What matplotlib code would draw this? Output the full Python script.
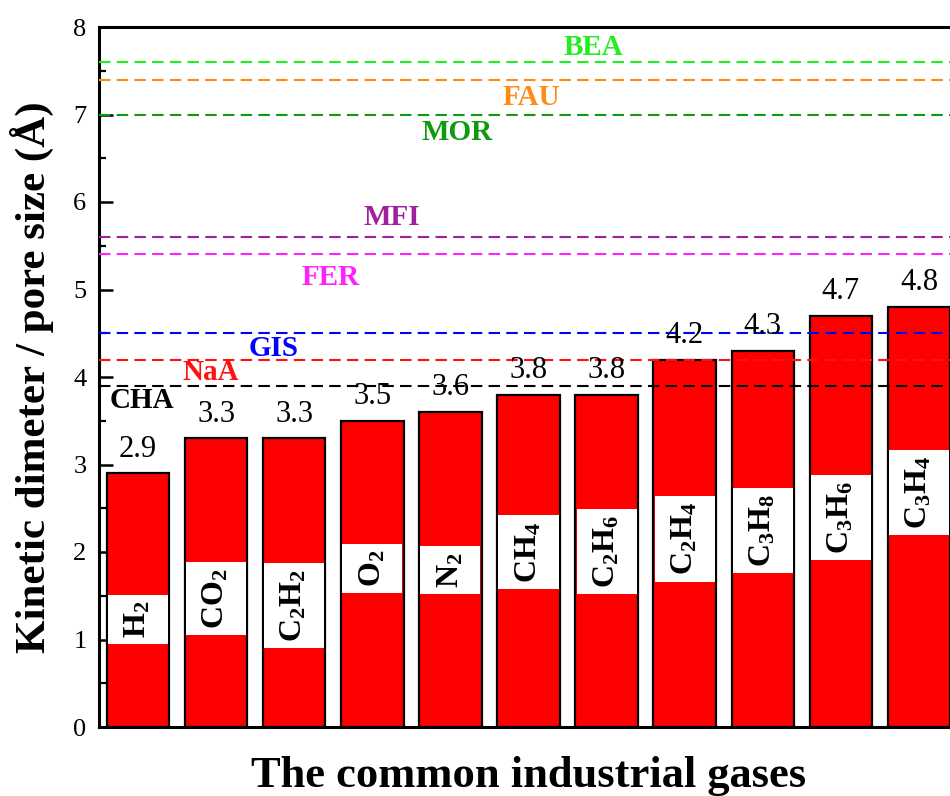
import matplotlib
matplotlib.use('Agg')
import matplotlib.pyplot as plt
from matplotlib.patches import Rectangle
from matplotlib.ticker import MultipleLocator, NullLocator

# ---------------- data ----------------
gases = [r'H_2', r'CO_2', r'C_2H_2', r'O_2', r'N_2', r'CH_4', r'C_2H_6',
         r'C_2H_4', r'C_3H_8', r'C_3H_6', r'C_3H_4']
diameters = [2.9, 3.3, 3.3, 3.5, 3.6, 3.8, 3.8, 4.2, 4.3, 4.7, 4.8]
value_text = ['2.9', '3.3', '3.3', '3.5', '3.6', '3.8', '3.8', '4.2', '4.3', '4.7', '4.8']
gas_label_y = [1.23, 1.47, 1.39, 1.81, 1.79, 2.00, 2.01, 2.15, 2.25, 2.39, 2.68]

zeolites = ['BEA', 'FAU', 'MOR', 'MFI', 'FER', 'GIS', 'NaA', 'CHA']
pore_sizes = [7.6, 7.4, 7.0, 5.6, 5.4, 4.5, 4.2, 3.9]
zeolite_colors = ['#22EE22', '#FF8A14', '#109A10', '#A020A0', '#FF22FF',
                  '#0000FF', '#FF1111', '#000000']
zeo_label_x = [5.83, 5.04, 4.08, 3.25, 2.46, 1.74, 0.93, 0.05]
zeo_label_y = [7.77, 7.19, 6.79, 5.82, 5.14, 4.32, 4.05, 3.73]

# ---------------- style ----------------
plt.rcParams['font.family'] = ['Liberation Serif', 'DejaVu Serif']
plt.rcParams['mathtext.fontset'] = 'custom'
plt.rcParams['mathtext.rm'] = 'Liberation Serif'
plt.rcParams['mathtext.bf'] = 'Liberation Serif:bold'
plt.rcParams['mathtext.it'] = 'Liberation Serif:italic'

fig = plt.figure(figsize=(9.5, 7.96), dpi=100)
ax = fig.add_axes([99 / 950, 69 / 796, (958 - 99) / 950, 700 / 796])

x = list(range(len(gases)))
bars = ax.bar(x, diameters, width=0.8, color='#FF0000', edgecolor='black',
              linewidth=1.6, zorder=2)

ax.set_xlim(-0.5, len(gases) - 0.5)
ax.set_ylim(0, 8)

# horizontal dashed pore-size lines
for ps, c in zip(pore_sizes, zeolite_colors):
    ax.axhline(ps, color=c, linewidth=1.5, dashes=(5.5, 3.0), zorder=3)

for name, c, lx, ly in zip(zeolites, zeolite_colors, zeo_label_x, zeo_label_y):
    ax.text(lx, ly, name, color=c, fontsize=21, fontweight='bold',
            ha='center', va='center', zorder=5)

# value labels above bars
for xi, d, s in zip(x, diameters, value_text):
    ax.annotate(s, (xi, d), xytext=(0, 7), textcoords='offset points',
                ha='center', va='bottom', fontsize=22, zorder=6)

# gas labels inside bars with white background
texts = []
for xi, g, gy in zip(x, gases, gas_label_y):
    t = ax.text(xi, gy, r'$\mathbf{' + g + '}$', rotation=90, fontsize=23,
                ha='center', va='center', zorder=6)
    texts.append(t)

fig.canvas.draw()
renderer = fig.canvas.get_renderer()
inv = ax.transData.inverted()
for xi, t in zip(x, texts):
    bb = t.get_window_extent(renderer).transformed(inv)
    pad = 0.07
    rect = Rectangle((xi - 0.385, bb.y0 - pad), 0.77, (bb.y1 - bb.y0) + 2 * pad,
                     facecolor='white', edgecolor='none', zorder=4)
    ax.add_patch(rect)

# axes styling
for side in ['left', 'bottom', 'top', 'right']:
    ax.spines[side].set_linewidth(2.2)
ax.xaxis.set_major_locator(NullLocator())
ax.yaxis.set_major_locator(MultipleLocator(1))
ax.yaxis.set_minor_locator(MultipleLocator(0.5))
ax.tick_params(axis='y', which='major', direction='in', length=10, width=1.8,
               labelsize=19, pad=9, right=False)
ax.tick_params(axis='y', which='minor', direction='in', length=5, width=1.6,
               right=False)
ax.tick_params(axis='x', which='both', bottom=False, top=False, labelbottom=False)

ax.set_ylabel('Kinetic dimeter / pore size (Å)', fontsize=31, fontweight='bold',
              labelpad=14)
ax.set_xlabel('The common industrial gases', fontsize=32, fontweight='bold',
              labelpad=21)

fig.savefig('out.png', dpi=100, facecolor='white')
